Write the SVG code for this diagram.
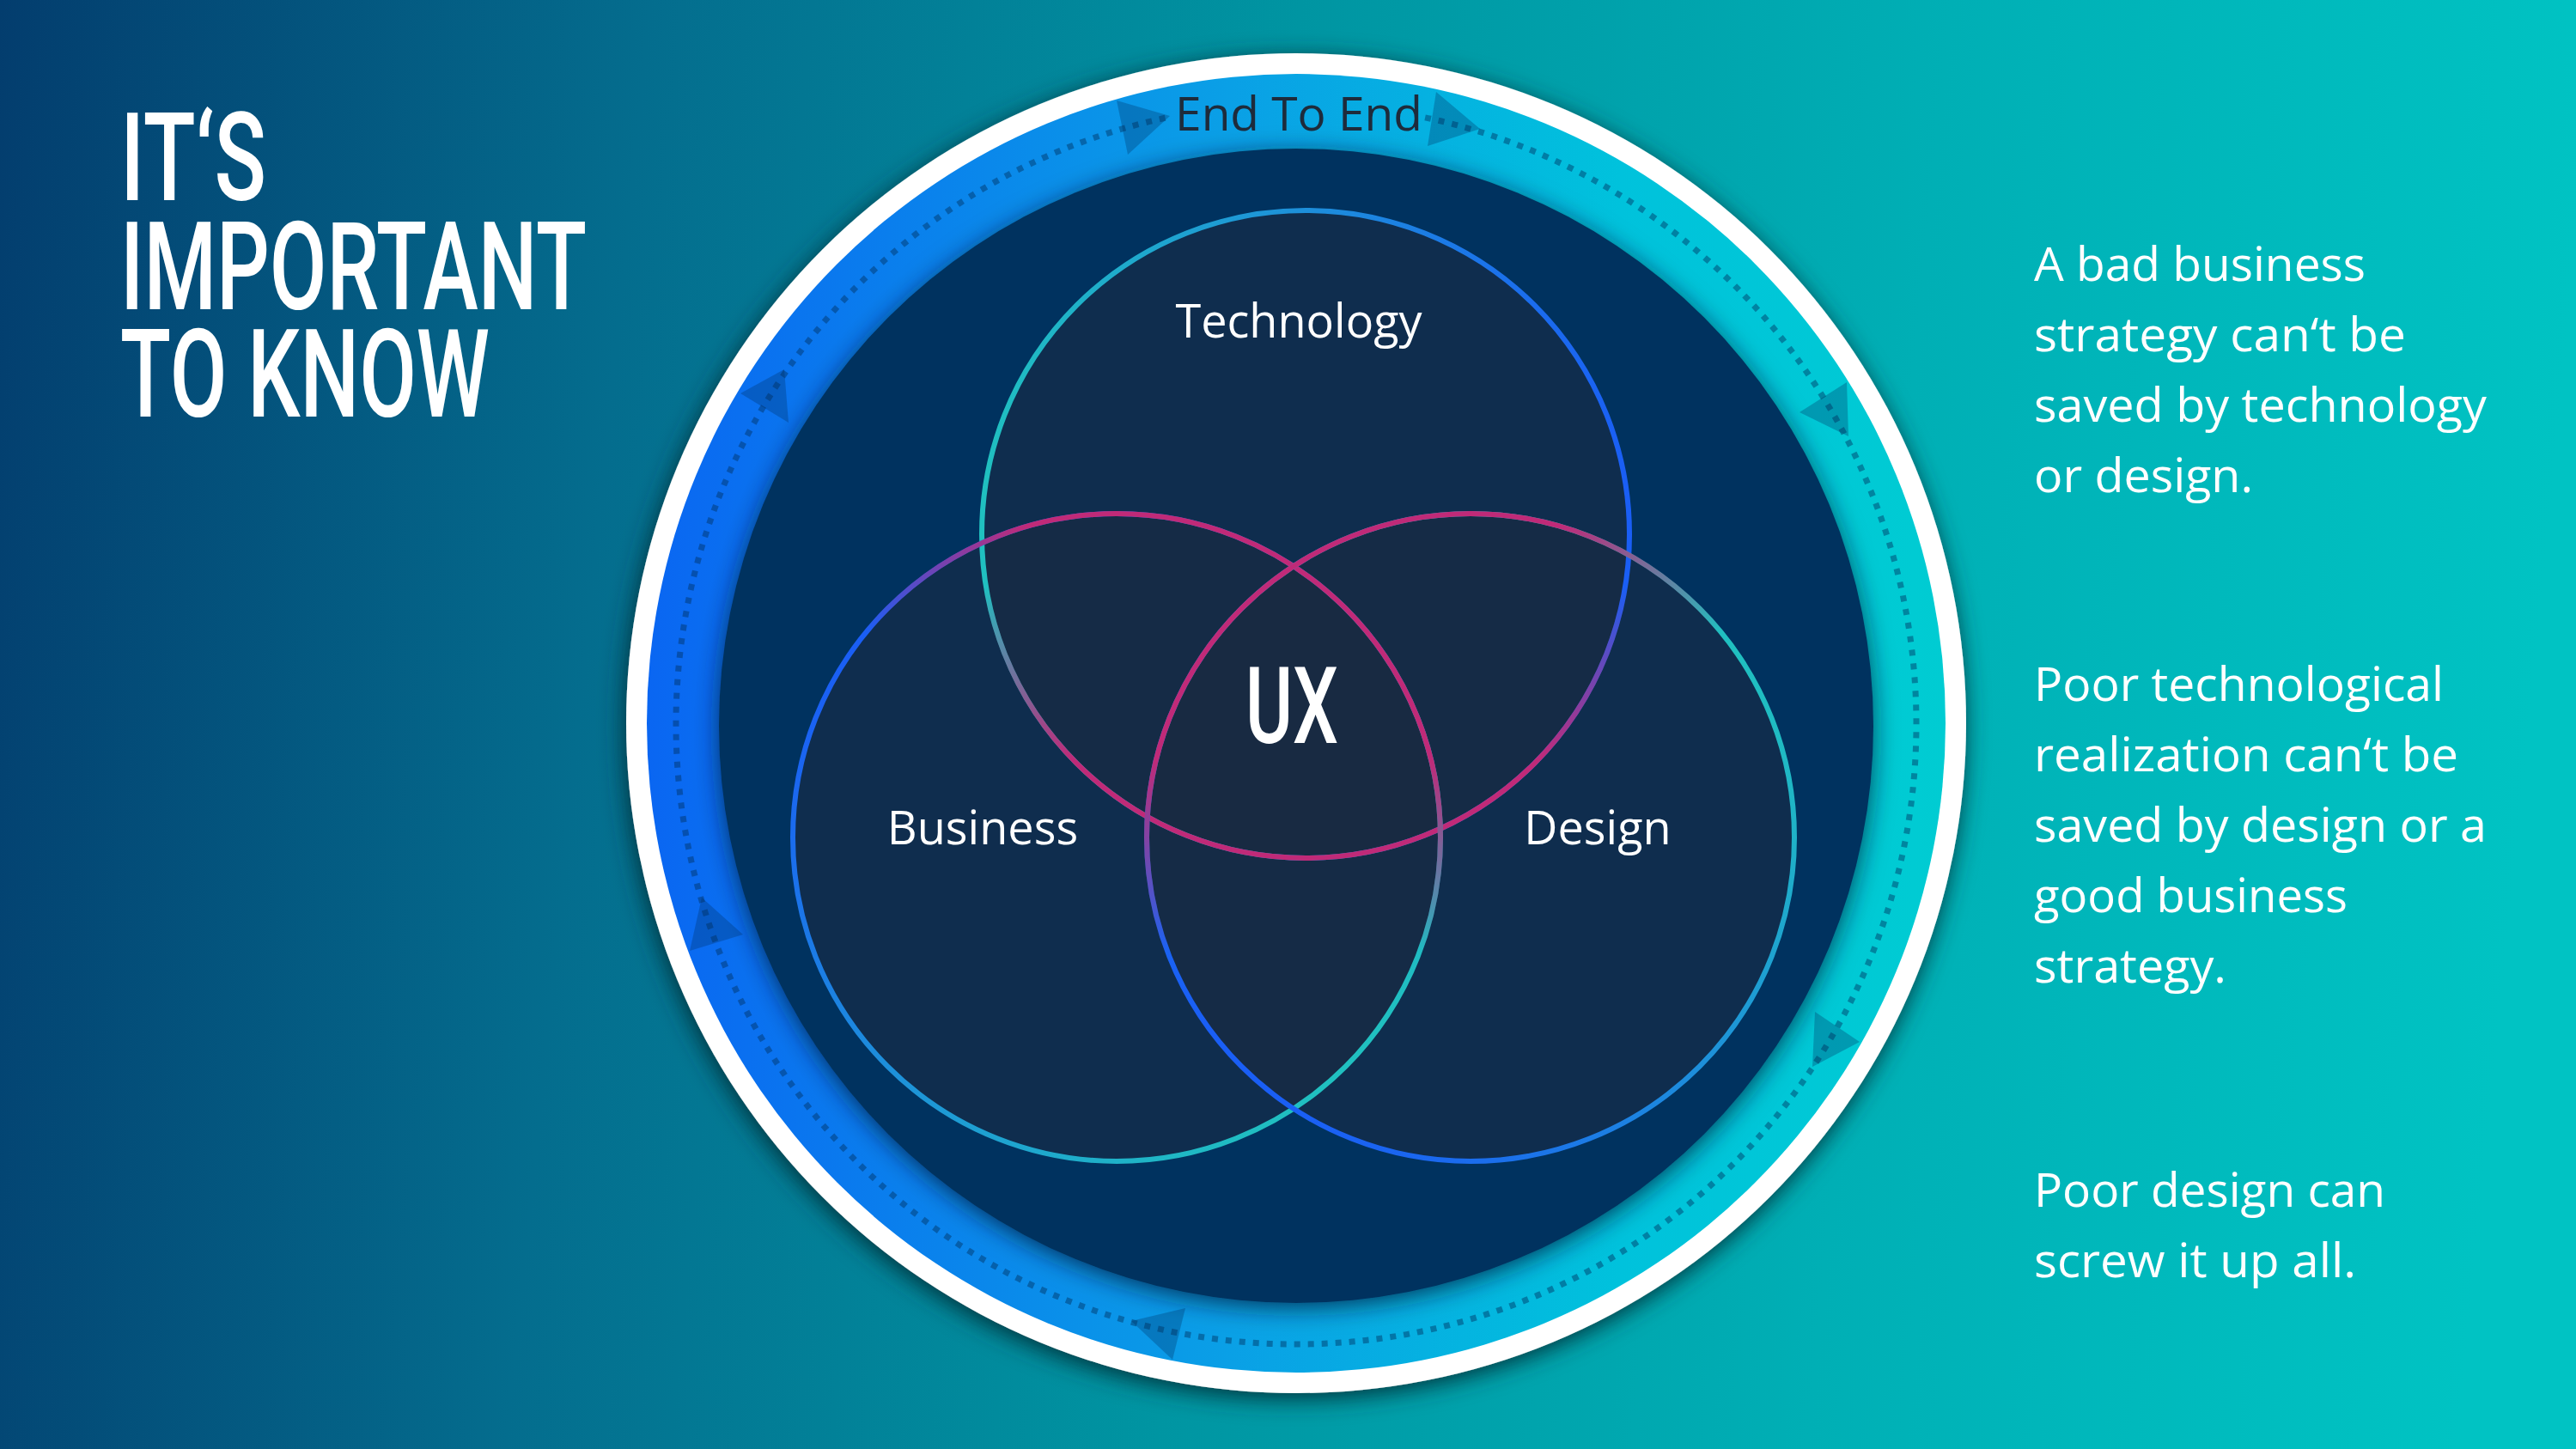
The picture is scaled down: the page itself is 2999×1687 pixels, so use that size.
<svg xmlns="http://www.w3.org/2000/svg" width="2999" height="1687" viewBox="0 0 2999 1687">
<style>
.title{font-family:Roboto,"Liberation Sans",sans-serif;font-weight:500;fill:#ffffff;font-size:142px}
.body{font-family:"Open Sans","Liberation Sans",sans-serif;fill:#ffffff;font-size:55px}
.lbl{font-family:"Open Sans","Liberation Sans",sans-serif;font-weight:500;fill:#ffffff;font-size:54px;text-anchor:middle}
.arrow{fill:#003060;fill-opacity:0.3}
.vfill{fill:#1c2a40;fill-opacity:0.55}
.vs{fill:none;stroke-width:6}
</style>
<defs>
<linearGradient id="bg" gradientUnits="userSpaceOnUse" x1="0" y1="0" x2="2999" y2="300">
<stop offset="0" stop-color="#033d6e"/>
<stop offset="0.25" stop-color="#046d8e"/>
<stop offset="0.5" stop-color="#0095a2"/>
<stop offset="0.75" stop-color="#00afb5"/>
<stop offset="1" stop-color="#00c3c3"/>
</linearGradient>
<linearGradient id="ring" gradientUnits="userSpaceOnUse" x1="753" y1="0" x2="2265" y2="0">
<stop offset="0" stop-color="#0a66f2"/>
<stop offset="0.45" stop-color="#0aa0e6"/>
<stop offset="0.75" stop-color="#00c2dc"/>
<stop offset="1" stop-color="#00ccd2"/>
</linearGradient>
<linearGradient id="techBase" gradientUnits="userSpaceOnUse" x1="1143" y1="622" x2="1897" y2="622">
<stop offset="0" stop-color="#20c0c0"/>
<stop offset="1" stop-color="#1a5ef5"/>
</linearGradient>
<linearGradient id="techMag" gradientUnits="userSpaceOnUse" x1="1520" y1="245" x2="1520" y2="999">
<stop offset="0" stop-color="#c02a78" stop-opacity="0"/>
<stop offset="0.58" stop-color="#c02a78" stop-opacity="0"/>
<stop offset="0.85" stop-color="#c02a78" stop-opacity="1"/>
<stop offset="1" stop-color="#c02a78" stop-opacity="1"/>
</linearGradient>
<linearGradient id="busBase" gradientUnits="userSpaceOnUse" x1="1033" y1="708" x2="1567" y2="1242">
<stop offset="0" stop-color="#1a5ef5"/>
<stop offset="1" stop-color="#20c0c0"/>
</linearGradient>
<linearGradient id="busMag" gradientUnits="userSpaceOnUse" x1="1112" y1="1301" x2="1488" y2="649">
<stop offset="0" stop-color="#c02a78" stop-opacity="0"/>
<stop offset="0.58" stop-color="#c02a78" stop-opacity="0"/>
<stop offset="0.85" stop-color="#c02a78" stop-opacity="1"/>
<stop offset="1" stop-color="#c02a78" stop-opacity="1"/>
</linearGradient>
<linearGradient id="desBase" gradientUnits="userSpaceOnUse" x1="1979" y1="708" x2="1445" y2="1242">
<stop offset="0" stop-color="#20c0c0"/>
<stop offset="1" stop-color="#1a5ef5"/>
</linearGradient>
<linearGradient id="desMag" gradientUnits="userSpaceOnUse" x1="1900" y1="1301" x2="1524" y2="649">
<stop offset="0" stop-color="#c02a78" stop-opacity="0"/>
<stop offset="0.58" stop-color="#c02a78" stop-opacity="0"/>
<stop offset="0.85" stop-color="#c02a78" stop-opacity="1"/>
<stop offset="1" stop-color="#c02a78" stop-opacity="1"/>
</linearGradient>
<filter id="outerShadow" x="-10%" y="-10%" width="120%" height="120%">
<feDropShadow dx="-2" dy="6" stdDeviation="14" flood-color="#00323a" flood-opacity="1"/>
</filter>
<filter id="innerShadow" x="-10%" y="-10%" width="120%" height="120%">
<feDropShadow dx="0" dy="6" stdDeviation="14" flood-color="#001a35" flood-opacity="0.75"/>
</filter>
</defs>

<rect id="background" x="0" y="0" width="2999" height="1687" fill="url(#bg)"/>

<g id="outer-ring">
<circle cx="1509" cy="842" r="780" fill="#ffffff" filter="url(#outerShadow)"/>
<circle cx="1509" cy="842" r="756" fill="url(#ring)"/>
<circle cx="1509" cy="845" r="672" fill="#00335f" filter="url(#innerShadow)"/>
</g>

<g id="connectors">
<path d="M1659.1,136.8 A722,722 0 1 1 1358.9,136.8" fill="none" stroke="#003060" stroke-opacity="0.45" stroke-width="7" stroke-dasharray="7 9"/>
<polygon class="arrow" points="1300,117 1362,135 1313,180"/>
<polygon class="arrow" points="1672,107 1723,150 1662,170"/>
<polygon class="arrow" points="2095,480 2150,445 2152,508"/>
<polygon class="arrow" points="2113,1178 2165,1213 2110,1242"/>
<polygon class="arrow" points="1380,1523 1365,1583 1317,1538"/>
<polygon class="arrow" points="817,1045 865,1088 803,1107"/>
<polygon class="arrow" points="862,458 913,430 918,492"/>
</g>

<g id="end-to-end">
<text x="1512" y="152" font-family="'Open Sans','Liberation Sans',sans-serif" font-size="55" fill="#1e2b3b" text-anchor="middle">End To End</text>
</g>

<g id="venn-fills">
<circle class="vfill" cx="1520" cy="622" r="377"/>
<circle class="vfill" cx="1300" cy="975" r="377"/>
<circle class="vfill" cx="1712" cy="975" r="377"/>
</g>

<g id="technology">
<circle class="vs" cx="1520" cy="622" r="377" stroke="url(#techBase)"/>
<circle class="vs" cx="1520" cy="622" r="377" stroke="url(#techMag)"/>
<text class="lbl" x="1512" y="393">Technology</text>
</g>
<g id="business">
<circle class="vs" cx="1300" cy="975" r="377" stroke="url(#busBase)"/>
<circle class="vs" cx="1300" cy="975" r="377" stroke="url(#busMag)"/>
<text class="lbl" x="1144" y="983">Business</text>
</g>
<g id="design">
<circle class="vs" cx="1712" cy="975" r="377" stroke="url(#desBase)"/>
<circle class="vs" cx="1712" cy="975" r="377" stroke="url(#desMag)"/>
<text class="lbl" x="1860" y="983">Design</text>
</g>
<g id="ux">
<text x="1450" y="865" font-family="Roboto,'Liberation Sans',sans-serif" font-weight="500" font-size="125" fill="#ffffff" textLength="108" lengthAdjust="spacingAndGlyphs">UX</text>
</g>

<g id="title">
<text class="title" x="140" y="233" textLength="170" lengthAdjust="spacingAndGlyphs">IT‘S</text>
<text class="title" x="140" y="360" textLength="543" lengthAdjust="spacingAndGlyphs">IMPORTANT</text>
<text class="title" x="140" y="485" textLength="430" lengthAdjust="spacingAndGlyphs">TO KNOW</text>
</g>

<g id="note-1">
<text class="body" x="2368" y="327" textLength="386" lengthAdjust="spacingAndGlyphs">A bad business</text>
<text class="body" x="2368" y="409" textLength="433" lengthAdjust="spacingAndGlyphs">strategy can‘t be</text>
<text class="body" x="2368" y="491" textLength="527" lengthAdjust="spacingAndGlyphs">saved by technology</text>
<text class="body" x="2368" y="573" textLength="255" lengthAdjust="spacingAndGlyphs">or design.</text>
</g>
<g id="note-2">
<text class="body" x="2368" y="816" textLength="477" lengthAdjust="spacingAndGlyphs">Poor technological</text>
<text class="body" x="2368" y="898" textLength="494" lengthAdjust="spacingAndGlyphs">realization can‘t be</text>
<text class="body" x="2368" y="980" textLength="527" lengthAdjust="spacingAndGlyphs">saved by design or a</text>
<text class="body" x="2368" y="1062" textLength="365" lengthAdjust="spacingAndGlyphs">good business</text>
<text class="body" x="2368" y="1144" textLength="224" lengthAdjust="spacingAndGlyphs">strategy.</text>
</g>
<g id="note-3">
<text class="body" x="2368" y="1405" textLength="409" lengthAdjust="spacingAndGlyphs">Poor design can</text>
<text class="body" x="2368" y="1487" textLength="375" lengthAdjust="spacingAndGlyphs">screw it up all.</text>
</g>
</svg>
